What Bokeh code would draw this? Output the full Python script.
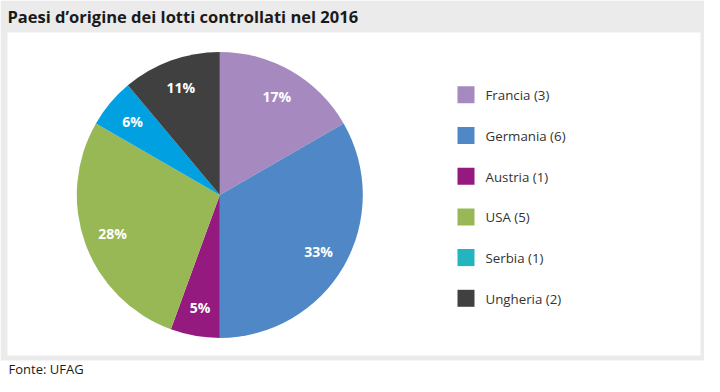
import numpy as np
from bokeh.plotting import figure
from bokeh.models import Range1d, ColumnDataSource
from bokeh.embed import file_html
from bokeh.resources import INLINE
from bokeh.core.properties import value

# ---- data ----
title = "Paesi d’origine dei lotti controllati nel 2016"
source_note = "Fonte: UFAG"
countries = ["Francia", "Germania", "Austria", "USA", "Serbia", "Ungheria"]
counts = [3, 6, 1, 5, 1, 2]
pct_labels = ["17%", "33%", "5%", "28%", "6%", "11%"]
slice_colors = ["#a68abf", "#5087c6", "#951a7f", "#97b854", "#00a0e1", "#404040"]
legend_colors = ["#a68abf", "#5087c6", "#951a7f", "#97b854", "#22b5bf", "#404040"]

# ---- layout (pixels, measured from the top-left) ----
W, H = 704, 376
FONT = "Open Sans"


def Y(fy):
    return H - fy


p = figure(width=W, height=H, x_range=Range1d(0, W), y_range=Range1d(0, H),
           output_backend="svg", toolbar_location=None,
           x_axis_type=None, y_axis_type=None, min_border=0,
           outline_line_color=None, background_fill_color="white",
           border_fill_color="white")
p.grid.visible = False

# background frame and white panel
p.quad(left=0, right=W, top=Y(0), bottom=Y(360), fill_color="#ebebeb", line_color=None)
p.quad(left=7, right=W - 4, top=Y(32), bottom=Y(355), fill_color="white", line_color=None)

# title and source
p.text(x=[7], y=[Y(15.5)], text=[title], text_font=value(FONT), text_font_style="bold",
       text_font_size="16.5px", text_color="#1a1a1a", text_baseline="middle",
       text_align="left")
p.text(x=[8], y=[Y(368)], text=[source_note], text_font=value(FONT),
       text_font_size="13px", text_color="#1a1a1a", text_baseline="middle",
       text_align="left")

# pie
cx, cy, R = 219.3, Y(194.4), 143
vals = np.array(counts, dtype=float)
frac = vals / vals.sum()
cum_end = np.cumsum(frac) * 2 * np.pi
cum_start = cum_end - frac * 2 * np.pi
start = np.pi / 2 - cum_end
end = np.pi / 2 - cum_start
mid = (start + end) / 2

src = ColumnDataSource(dict(start=start, end=end, color=slice_colors))
p.wedge(x=cx, y=cy, radius=R, start_angle="start", end_angle="end",
        fill_color="color", line_color=None, source=src)

lr = 114
lab = ColumnDataSource(dict(x=cx + lr * np.cos(mid), y=cy + lr * np.sin(mid),
                            t=pct_labels))
p.text(x="x", y="y", text="t", source=lab, text_font=value(FONT), text_font_style="bold",
       text_font_size="14px", text_color="white", text_align="center",
       text_baseline="middle")

# legend
n = len(countries)
ly = np.array([Y(94.3 + i * 40.7) for i in range(n)])
leg = ColumnDataSource(dict(x=[465.5] * n, y=ly, ty=ly - 0.3, c=legend_colors,
                            t=[f"{c} ({k})" for c, k in zip(countries, counts)],
                            tx=[485] * n))
p.rect(x="x", y="y", width=17, height=17, fill_color="c", line_color=None, source=leg)
p.text(x="tx", y="ty", text="t", source=leg, text_font=value(FONT), text_font_size="13.3px",
       text_color="#333333", text_align="left", text_baseline="middle")

open("out.html", "w").write(file_html(p, INLINE))
